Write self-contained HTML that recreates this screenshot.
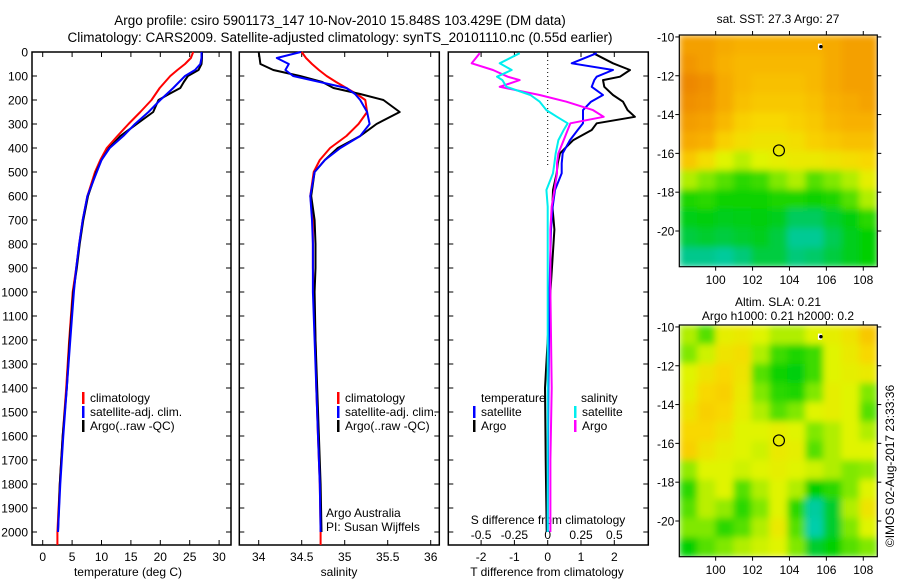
<!DOCTYPE html>
<html><head><meta charset="utf-8"><style>
html,body{margin:0;padding:0;background:#fff;}
svg{display:block;font-family:"Liberation Sans",Arial,sans-serif;}
text{font-size:12px;fill:#000;}
</style></head><body>
<svg id="fig" width="900" height="580" viewBox="0 0 900 580">
<defs>
<filter id="blur" x="0" y="0" width="1" height="1"><feGaussianBlur stdDeviation="3.5" edgeMode="duplicate"/></filter>
<clipPath id="clipA"><rect x="679.3" y="35" width="198" height="231.7"/></clipPath>
<clipPath id="clipB"><rect x="679.3" y="325" width="198" height="231.7"/></clipPath>
</defs>
<text x="340" y="25" text-anchor="middle" style="font-size:13.5px">Argo profile: csiro 5901173_147 10-Nov-2010 15.848S 103.429E (DM data)</text>
<text x="340" y="42" text-anchor="middle" style="font-size:13.5px">Climatology: CARS2009. Satellite-adjusted climatology: synTS_20101110.nc (0.55d earlier)</text>
<g id="plots"></g>
</svg>
<script>
// ---- depth grid (m) ----
const depths = [0,25,50,75,100,125,150,175,200,250,300,350,400,450,500,600,700,800,900,1000,1200,1400,1600,1800,2000];
// ---- temperature (deg C) ----
const tempClim = [25.6,25.2,24.2,22.9,21.7,20.8,19.9,19.2,18.5,16.6,14.6,12.7,10.9,9.8,8.9,7.6,6.8,6.2,5.7,5.1,4.5,4.0,3.4,2.9,2.5];
const tempSat  = [27.0,27.0,26.8,25.9,24.2,23.2,22.2,21.1,20.0,18.0,15.7,13.7,11.4,10.0,9.2,7.6,6.8,6.2,5.7,5.3,4.7,4.1,3.5,3.0,2.6];
const tempArgo = [27.1,27.1,27.0,26.5,24.7,24.0,23.4,21.5,19.7,18.8,16.0,13.2,11.3,10.0,9.1,7.7,6.9,6.3,5.8,5.2,4.6,4.1,3.4,2.9,2.6];
// ---- salinity ----
const salClim = [34.50,34.55,34.62,34.70,34.79,34.90,35.02,35.14,35.24,35.26,35.16,35.02,34.83,34.71,34.64,34.60,34.63,34.63,34.63,34.64,34.66,34.67,34.69,34.71,34.72];
const salSat  = [34.49,34.21,34.35,34.31,34.40,34.71,35.02,35.12,35.18,35.26,35.29,35.18,34.95,34.77,34.65,34.60,34.62,34.63,34.63,34.63,34.65,34.67,34.69,34.71,34.72];
const salArgo = [34.00,34.01,34.02,34.17,34.48,34.74,34.87,35.18,35.45,35.64,35.37,35.18,34.92,34.77,34.65,34.61,34.65,34.66,34.66,34.65,34.66,34.68,34.70,34.72,34.73];
// ---- differences from climatology ----
const diffDepths = [5,47,75,103,117,145,179,207,242,270,297,325,367,422,464,505,575,644,740,1000,1400,1700,2000];
const tDiffArgo = [1.37,1.96,2.47,2.17,1.66,1.70,1.96,2.26,2.40,2.62,1.47,1.32,0.77,0.37,0.30,0.27,0.16,0.14,0.20,0.08,-0.08,-0.06,-0.03];
const tDiffSat  = [1.47,0.72,1.96,1.47,1.40,1.32,1.66,1.30,1.06,1.06,1.06,0.90,0.67,0.45,0.42,0.42,0.22,0.15,0.10,0.05,0.02,0.01,0.0];
const sDiffArgo = [-0.51,-0.57,-0.41,-0.30,-0.21,-0.36,-0.06,0.14,0.34,0.42,0.17,0.15,0.12,0.08,0.07,0.07,0.05,0.03,0.02,0.02,0.03,0.02,0.02];
const sDiffSat  = [-0.21,-0.36,-0.27,-0.38,-0.34,-0.31,-0.13,-0.06,-0.01,0.07,0.15,0.12,0.08,0.06,0.05,0.04,-0.01,0.0,0.0,0.0,0.0,0.0,0.0];
// ---- tick labels ----
const depthTicks = [0,100,200,300,400,500,600,700,800,900,1000,1100,1200,1300,1400,1500,1600,1700,1800,1900,2000];
const tempTicks = [0,5,10,15,20,25,30];
const salTicks = [34,34.5,35,35.5,36];
const tDiffTicks = [-2,-1,0,1,2];
const sDiffTicks = [-0.5,-0.25,0,0.25,0.5];
const latTicks = [-10,-12,-14,-16,-18,-20];
const lonTicks = [100,102,104,106,108];
// ---- map fields (colour index 0=cyan .. 1=dark orange), rows north->south ----
const sstGrid = [
[.85,.85,.82,.80,.80,.80,.80,.80,.82,.85,.85],
[.88,.85,.80,.78,.78,.78,.78,.78,.82,.85,.85],
[.92,.90,.82,.78,.76,.76,.76,.78,.82,.85,.85],
[.90,.88,.82,.76,.74,.74,.74,.76,.80,.82,.84],
[.86,.84,.78,.72,.70,.70,.72,.74,.78,.80,.80],
[.82,.80,.72,.68,.66,.66,.68,.72,.74,.76,.76],
[.74,.68,.60,.56,.60,.62,.64,.64,.66,.68,.70],
[.55,.50,.45,.40,.42,.50,.55,.45,.50,.55,.62],
[.38,.40,.36,.36,.36,.38,.38,.36,.38,.45,.55],
[.33,.34,.32,.33,.34,.32,.25,.25,.30,.34,.40],
[.28,.30,.28,.30,.32,.28,.18,.18,.26,.32,.35],
[.20,.20,.16,.22,.28,.28,.22,.24,.28,.32,.35]];
const slaGrid = [
[.55,.45,.62,.64,.60,.55,.55,.60,.62,.66,.74],
[.50,.58,.66,.68,.55,.42,.38,.42,.60,.64,.70],
[.60,.66,.70,.66,.45,.36,.34,.42,.60,.62,.64],
[.62,.70,.72,.64,.50,.40,.38,.50,.62,.60,.50],
[.66,.72,.70,.62,.55,.45,.50,.60,.62,.60,.45],
[.70,.70,.66,.60,.60,.62,.60,.50,.55,.60,.55],
[.72,.66,.62,.60,.58,.64,.62,.45,.55,.60,.60],
[.52,.60,.60,.58,.60,.62,.60,.58,.55,.50,.52],
[.40,.56,.60,.45,.55,.60,.55,.35,.40,.50,.60],
[.45,.56,.52,.40,.50,.60,.40,.15,.30,.55,.66],
[.50,.50,.40,.45,.55,.64,.45,.12,.30,.50,.60],
[.35,.45,.50,.55,.58,.60,.50,.30,.35,.45,.50]];
const argoLon = 103.43, argoLat = -15.85;
const floatLon = 105.65, floatLat = -10.5;

const NS='http://www.w3.org/2000/svg';
const root=document.getElementById('plots');
function el(tag,attrs,parent,txt){const e=document.createElementNS(NS,tag);for(const k in attrs)e.setAttribute(k,attrs[k]);if(txt!==undefined)e.textContent=txt;(parent||root).appendChild(e);return e;}

const Y0=52, Y1=545;
const yDepth = d => Y0 + d*0.24;
const xTemp = t => 42.7 + t*5.88;
const xSal = s => 258.7 + (s-34)*86;
const xTD = t => 547.7 + t*33.3;
const xSD = s => 547.7 + s*133.3;

function panel(name,x0,x1){
  const g=el('g',{});
  
  
  el('rect',{x:x0,y:Y0,width:x1-x0,height:Y1-Y0,fill:'none',stroke:'#000','stroke-width':1.5},g);
  depthTicks.forEach(d=>{const y=yDepth(d);
    el('line',{x1:x0,x2:x0+5,y1:y,y2:y,stroke:'#000'},g);
    el('line',{x1:x1-5,x2:x1,y1:y,y2:y,stroke:'#000'},g);});
  return g;
}
function xticks(g,vals,fx,labels){
  vals.forEach((v,i)=>{const x=fx(v);
    el('line',{x1:x,x2:x,y1:Y1,y2:Y1-5,stroke:'#000'},g);
    el('line',{x1:x,x2:x,y1:Y0,y2:Y0+5,stroke:'#000'},g);
    if(labels){const t=el('text',{x:x,y:561,'text-anchor':'middle'},g,String(v));
      
      }
  });
}
function line(g,xs,ds,fx,color,name,w){
  const pts=xs.map((v,i)=>fx(v).toFixed(1)+','+yDepth(ds[i]).toFixed(1)).join(' ');
  const p=el('polyline',{points:pts,fill:'none',stroke:color,'stroke-width':w||2,'stroke-linejoin':'round'},g);
  
  
}
function legend(g,x,y,items){
  items.forEach((it,i)=>{
    el('rect',{x:x,y:y+i*14-10,width:2.5,height:12,fill:it[1]},g);
    const t=el('text',{x:x+8,y:y+i*14},g,it[0]);
    
    
  });
}

const p1=panel('temperature-panel',32,231);
depthTicks.forEach(d=>{const t=el('text',{x:28,y:yDepth(d)+4.5,'text-anchor':'end'},p1,String(d));
  
  });
xticks(p1,tempTicks,xTemp,true);
line(p1,tempClim,depths,xTemp,'#f00','climatology-temp-line');
line(p1,tempClim.slice(-1).concat(tempClim.slice(-1)),[2000,2054],xTemp,'#f00','climatology-temp-tail');
line(p1,tempArgo,depths,xTemp,'#000','argo-temp-line');
line(p1,tempSat,depths,xTemp,'#00f','satellite-temp-line');
legend(p1,82,402,[['climatology','#f00'],['satellite-adj. clim.','#00f'],['Argo(..raw -QC)','#000']]);
const xl1=el('text',{x:128,y:576,'text-anchor':'middle'},p1,'temperature (deg C)');


const p2=panel('salinity-panel',239.3,439.3);
xticks(p2,salTicks,xSal,true);
line(p2,salClim,depths,xSal,'#f00','climatology-salinity-line');
line(p2,salClim.slice(-1).concat(salClim.slice(-1)),[2000,2054],xSal,'#f00','climatology-salinity-tail');
line(p2,salArgo,depths,xSal,'#000','argo-salinity-line');
line(p2,salSat,depths,xSal,'#00f','satellite-salinity-line');
legend(p2,337,402,[['climatology','#f00'],['satellite-adj. clim.','#00f'],['Argo(..raw -QC)','#000']]);
el('text',{x:326,y:517},p2,'Argo Australia');
el('text',{x:326,y:531},p2,'PI: Susan Wijffels');
const xl2=el('text',{x:339,y:576,'text-anchor':'middle'},p2,'salinity');


const p3=panel('difference-panel',448.3,648.3);
xticks(p3,tDiffTicks,xTD,true);
sDiffTicks.forEach(v=>{const t=el('text',{x:xSD(v),y:539,'text-anchor':'middle'},p3,String(v));
  
  });
el('text',{x:548,y:524,'text-anchor':'middle'},p3,'S difference from climatology');
el('line',{x1:xTD(0),x2:xTD(0),y1:Y0,y2:yDepth(480),stroke:'#000','stroke-dasharray':'1,3'},p3);
line(p3,tDiffArgo,diffDepths,xTD,'#000','argo-temp-diff-line');
line(p3,tDiffSat,diffDepths,xTD,'#00f','satellite-temp-diff-line');
line(p3,sDiffArgo,diffDepths,xSD,'#f0f','argo-sal-diff-line');
line(p3,sDiffSat,diffDepths,xSD,'#0ee','satellite-sal-diff-line');
el('text',{x:481,y:402},p3,'temperature');
el('text',{x:581,y:402},p3,'salinity');
legend(p3,473,416,[['satellite','#00f'],['Argo','#000']]);
legend(p3,574,416,[['satellite','#0ee'],['Argo','#f0f']]);
const xl3=el('text',{x:547,y:576,'text-anchor':'middle'},p3,'T difference from climatology');


const MX0=679.3, MX1=877.3;
const lonL=98.03, lonR=108.76;
const xLon = lo => MX0 + (lo-lonL)*(MX1-MX0)/(lonR-lonL);
const stops=[[0,[16,216,216]],[0.2,[0,200,140]],[0.35,[0,208,0]],[0.5,[128,232,0]],[0.6,[224,244,0]],[0.7,[248,216,0]],[0.8,[248,176,0]],[0.9,[240,144,0]],[1,[224,104,0]]];
function cmap(v){for(let i=1;i<stops.length;i++){if(v<=stops[i][0]){const a=stops[i-1],b=stops[i],f=(v-a[0])/(b[0]-a[0]);
  return 'rgb('+a[1].map((c,k)=>Math.round(c+(b[1][k]-c)*f)).join(',')+')';}}return 'rgb(224,104,0)';}
function map(name,top,grid,clip,title1,title2){
  const g=el('g',{});
  
  
  const latT=-9.9, latB=-21.84;
  const yLat = la => top + (latT-la)*231.7/(latT-latB);
  const cg=el('g',{'clip-path':'url(#'+clip+')'},g);
  const bg=el('g',{filter:'url(#blur)'},cg);
  const rows=grid.length, cols=grid[0].length, cw=198/cols, ch=231.7/rows;
  grid.forEach((row,r)=>row.forEach((v,c)=>{
    const cell=el('rect',{x:MX0+c*cw,y:top+r*ch,width:cw+0.6,height:ch+0.6,fill:cmap(v)},bg);
    
    
  }));
  el('rect',{x:MX0,y:top,width:198,height:231.7,fill:'none',stroke:'#000','stroke-width':1.2},g);
  latTicks.forEach(la=>{const y=yLat(la);
    el('line',{x1:MX0-4,x2:MX0,y1:y,y2:y,stroke:'#000'},g);
    el('line',{x1:MX1,x2:MX1+4,y1:y,y2:y,stroke:'#000'},g);
    el('text',{x:MX0-5,y:y+4.5,'text-anchor':'end'},g,String(la));});
  lonTicks.forEach(lo=>{const x=xLon(lo);
    el('line',{x1:x,x2:x,y1:top-4,y2:top,stroke:'#000'},g);
    el('line',{x1:x,x2:x,y1:top+231.7,y2:top+235.7,stroke:'#000'},g);
    el('text',{x:x,y:top+249,'text-anchor':'middle'},g,String(lo));});
  const c=el('circle',{cx:xLon(argoLon),cy:yLat(argoLat),r:5.5,fill:'none',stroke:'#000','stroke-width':1.2},g);
  
  
  el('rect',{x:xLon(floatLon)-2,y:yLat(floatLat)-3,width:4,height:6,fill:'#fff'},g);
  el('circle',{cx:xLon(floatLon)+1,cy:yLat(floatLat),r:1.8,fill:'#000'},g);
  if(title2){el('text',{x:778,y:top-19,'text-anchor':'middle','style':'font-size:12px'},g,title1);
    el('text',{x:778,y:top-5,'text-anchor':'middle','style':'font-size:12px'},g,title2);}
  else el('text',{x:778,y:top-12,'text-anchor':'middle','style':'font-size:12px'},g,title1);
}
map('sst-map',35,sstGrid,'clipA','sat. SST: 27.3 Argo: 27');
map('sla-map',325,slaGrid,'clipB','Altim. SLA: 0.21','Argo h1000: 0.21 h2000: 0.2');
const cr=el('text',{x:0,y:0,'text-anchor':'middle',transform:'translate(894,466) rotate(-90)','style':'font-size:12px'},root,'©IMOS 02-Aug-2017 23:33:36');


</script>
</body></html>
